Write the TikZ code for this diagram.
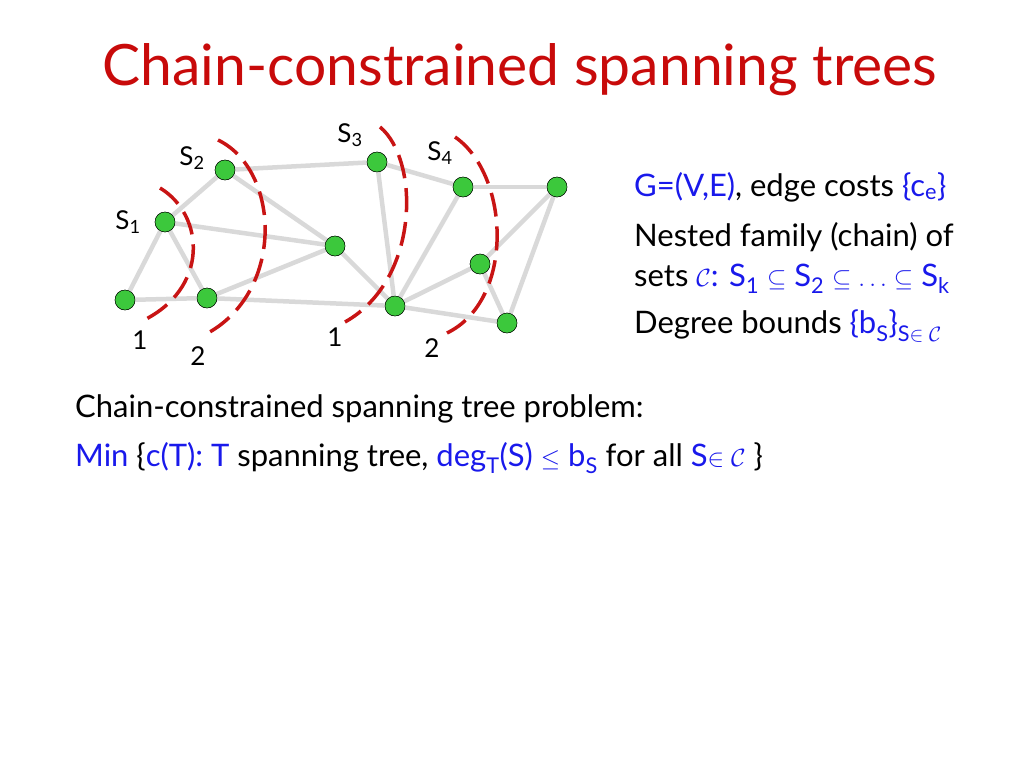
\documentclass[tikz,border=0pt]{standalone}
\usepackage{fontspec}
\setmainfont{Lato}
\usetikzlibrary{positioning}
\definecolor{titlered}{RGB}{200,10,10}
\definecolor{txtblue}{RGB}{25,25,235}
\definecolor{vgreen}{RGB}{60,200,60}
\definecolor{setred}{RGB}{200,20,20}
\newcommand{\bl}[1]{\textcolor{txtblue}{#1}}
\begin{document}
\begin{tikzpicture}[x=1pt,y=-1pt]
	\tikzstyle{vert} = [shape=circle, minimum size=20pt, inner sep=0, fill=vgreen, draw=black, thin]
	\tikzstyle{edge} = [draw, line width=4.5pt, black!15]
	\tikzstyle{setline} = [draw, setred, line width=3.5pt, dash pattern=on 24pt off 10pt]
	\tikzstyle{lbl} = [font=\fontsize{26}{28}\selectfont, inner sep=0]
	\tikzstyle{txt} = [font=\fontsize{31}{34}\selectfont, anchor=west, inner sep=0]
	\useasboundingbox (0,0) rectangle (1024,768);

	\node [font=\fontsize{57}{62}\selectfont, text=titlered] (title) at (520,70) {Chain-constrained spanning trees};

	% vertices
	\node [vert] (a) at (125,300) {};
	\node [vert] (b) at (165,222) {};
	\node [vert] (c) at (225,170) {};
	\node [vert] (d) at (207,298) {};
	\node [vert] (e) at (335,246) {};
	\node [vert] (f) at (377,162) {};
	\node [vert] (g) at (395,306) {};
	\node [vert] (h) at (463,187) {};
	\node [vert] (i) at (557,187) {};
	\node [vert] (j) at (480,264) {};
	\node [vert] (k) at (507,323) {};

	% edges
	\foreach \u/\v in {a/b,a/d,b/c,b/d,b/e,c/e,c/f,d/e,d/g,e/g,f/g,f/h,h/g,h/i,g/j,j/k,g/k,j/i,i/k}
	{
		\draw [edge] (\u) -- (\v);
	}
	\foreach \n in {a,b,c,d,e,f,g,h,i,j,k}
	{
		\node [vert] at (\n) {};
	}

	% sets
	\draw [setline] (160,188) .. controls (205,215) and (210,290) .. (140,322);
	\draw [setline] (218,140) .. controls (280,170) and (285,290) .. (208,333);
	\draw [setline] (380,127) .. controls (420,160) and (420,280) .. (345,322);
	\draw [setline] (455,137) .. controls (510,175) and (515,300) .. (447,333);

	\node [lbl] (s1) at (128,222) {S\textsubscript{1}};
	\node [lbl] (s2) at (192,158) {S\textsubscript{2}};
	\node [lbl] (s3) at (350,135) {S\textsubscript{3}};
	\node [lbl] (s4) at (440,153) {S\textsubscript{4}};
	\node [lbl] (n1) at (140,340) {1};
	\node [lbl] (n2) at (198,356) {2};
	\node [lbl] (n3) at (335,337) {1};
	\node [lbl] (n4) at (432,348) {2};

	% right text
	\node [txt] (t1) at (634,187) {\bl{G=(V,E)}, edge costs \bl{\{c\textsubscript{e}\}}};
	\node [txt] (t2) at (634,237) {Nested family (chain) of};
	\node [txt] (t3) at (634,279) {sets \bl{$\mathcal{C}$: S\textsubscript{1} $\subseteq$ S\textsubscript{2} $\subseteq\ldots\subseteq$ S\textsubscript{k}}};
	\node [txt] (t4) at (634,326) {Degree bounds \bl{\{b\textsubscript{S}\}\textsubscript{S$\in\mathcal{C}$}}};

	% bottom text
	\node [txt] (p1) at (75,409) {Chain-constrained spanning tree problem:};
	\node [txt] (p2) at (75,458) {\bl{Min} \{\bl{c(T):} \bl{T} spanning tree, \bl{deg\textsubscript{T}(S) $\leq$ b\textsubscript{S}} for all \bl{S$\in\mathcal{C}$} \}};
\end{tikzpicture}
\end{document}
